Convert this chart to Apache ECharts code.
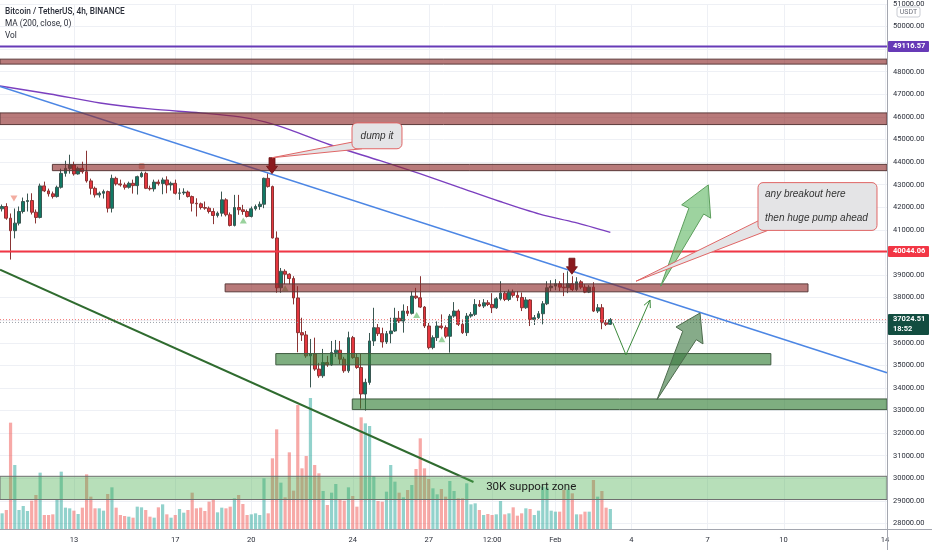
<!DOCTYPE html>
<html><head><meta charset="utf-8">
<script src="https://cdn.jsdelivr.net/npm/echarts@6/dist/echarts.min.js"></script>
<style>html,body{margin:0;padding:0;background:#fff}#c{width:932px;height:550px}</style>
</head><body><div id="c"></div>
<script>
// ---- time slots (4h candles) ----
const startTime = Date.UTC(2022, 0, 10, 4);
const slotCount = 210;
const tickIndex = [17, 41, 59, 83, 101, 116, 131, 149, 167, 185, 209];
const tickText = ['13', '17', '20', '24', '27', '12:00', 'Feb', '4', '7', '10', '14'];
const priceMin = 27000, priceMax = 51000, priceStep = 1000;
const volumeMax = 20000;

// ---- candles: [open, close, low, high] ----
const ohlc = [
[41931,42033,41812,42121],[42033,41517,41446,42178],[41517,40961,39683,41724],[40961,41296,40622,41944],[41296,41812,41195,42033],
[41812,42253,41724,42429],[42253,42297,41812,42606],[42297,41781,41680,42619],[41781,41548,41283,41900],[41548,42945,41504,43047],
[42945,42725,42672,43135],[42725,42593,42473,42826],[42593,42473,42385,42694],[42473,42883,42429,42958],[42883,43501,42826,43708],
[43501,43721,43355,44061],[43721,43871,43488,44326],[43871,43474,43400,44017],[43474,43721,43444,43796],[43721,43576,43488,44017],
[43576,43166,43091,44502],[43166,42839,42562,43267],[42839,42548,42429,42914],[42548,42619,42429,42694],[42619,42694,42385,42782],
[42694,41958,41768,42738],[41958,43280,41768,43443],[43280,43033,42958,43355],[43033,42989,42914,43223],[42989,42883,42782,43091],
[42883,43060,42826,43135],[43060,42958,42606,43223],[42958,43355,42562,43399],[43355,43501,43311,43576],[43501,42839,42804,43576],
[42839,42813,42738,42958],[42813,43113,42694,43223],[43113,43047,42958,43223],[43047,43210,42575,43311],[43210,42989,42619,43370],
[42989,43060,42738,43135],[43060,42619,42562,43223],[42619,42636,42328,42839],[42636,42672,42548,42839],[42672,42473,42429,42738],
[42473,42178,41812,42518],[42178,42152,41592,42398],[42152,41988,41900,42209],[41988,41958,41887,42253],[41958,41812,41724,42033],
[41812,41636,41252,41958],[41636,41737,41548,41812],[41737,42328,41592,42694],[42328,41667,41592,42398],[41667,41195,41151,41768],
[41195,41988,41151,42548],[41988,41887,41667,42548],[41887,41812,41667,42107],[41812,41592,41548,41900],[41592,41931,41548,42033],
[41931,42033,41856,42121],[42033,42134,41887,42253],[42134,43280,41958,43311],[43280,42914,42870,43501],[42914,40638,40622,42958],
[40638,38434,38213,40930],[38434,39166,38213,39311],[39166,39034,38593,39254],[39034,38844,38593,39078],[38844,37984,37698,38946],
[37984,36447,35580,38505],[36447,36345,36080,37108],[36345,35419,35331,36521],[35419,35507,34022,36168],[35507,34834,34757,36226],
[34834,34538,34448,35110],[34538,35123,34448,35727],[35123,35022,34934,35419],[35022,35564,34978,36080],[35564,35670,35375,36124],
[35670,35273,35051,36080],[35273,34757,34669,35375],[34757,36226,34669,36491],[36226,35344,35287,36301],[35344,34903,34845,35507],
[34903,33731,33083,35507],[33731,34245,32995,34408],[34245,36080,34139,36433],[36080,36666,35860,37548],[36666,36402,36301,36830],
[36402,36036,35785,36666],[36036,36402,35948,36521],[36402,36521,35978,37108],[36521,37085,36477,37548],[37085,36962,36874,37403],
[36962,37403,36447,37698],[37403,37302,37183,37624],[37302,38065,37250,38284],[38065,37990,37932,38431],[37990,37580,37536,38946],
[37580,36742,36654,37624],[36742,35785,35710,36874],[35785,36226,35710,36327],[36226,36742,36080,36948],[36742,36671,36594,37255],
[36671,36287,36199,36768],[36287,37183,35564,37271],[37183,37403,37108,37800],[37403,36816,36742,37477],[36816,36447,36389,36992],
[36447,37183,36301,37315],[37183,37257,37108,37359],[37257,37697,37183,37932],[37697,37624,37580,37888],[37624,37770,37536,37932],
[37770,37697,37624,37888],[37697,37550,37315,38196],[37550,37946,37500,38021],[37946,38196,37873,38725],[38196,37918,37844,38284],
[37918,38240,37844,38358],[38240,38098,38006,38358],[38098,38006,37844,38284],[38006,37550,37403,38226],[37550,37896,37500,38021],
[37896,37035,36740,37932],[37035,37108,36786,37227],[37108,37285,37050,37403],[37285,37726,36815,37844],[37726,38434,37668,38725],
[38434,38508,38284,38770],[38508,38609,38328,38814],[38609,38462,38284,38725],[38462,38434,38065,39093],[38434,38609,38196,39166],
[38609,38359,38284,38946],[38359,38697,38284,38902],[38697,38462,38372,38770],[38462,38240,38196,38593],[38240,38462,38200,38549],
[38462,37403,37359,38681],[37403,37550,37315,37712],[37550,36888,36598,37712],[36888,36817,36742,37006],[36817,37024.51,36786,37094]
];

const volumes = [
2350,2850,15950,9600,2850,3450,2700,4250,5100,8450,
2100,2100,2200,4450,8600,3200,3100,2750,2250,3200,
8200,4850,3100,3100,2750,5250,6250,3200,2100,1950,
1850,1700,3350,3250,2850,1850,1700,3250,3700,2200,
1700,2100,3000,2450,2850,5450,3100,3200,2700,4100,
4350,2500,3200,3100,3350,4600,5100,3750,2100,2200,
2350,2100,7600,2350,10600,14950,6950,4750,11500,5750,
18600,9100,10950,19650,9600,8350,5700,3600,5450,6750,
4450,4250,6250,4950,3350,16750,15850,15450,7950,4200,
4100,5600,9600,7100,5450,4750,5850,6600,9000,13600,
9100,7500,6100,5200,6000,4850,7200,5700,4600,4600,
6850,3700,3850,2850,2100,2250,2100,2200,4200,2200,
2350,3250,2000,2350,3100,3000,2100,2750,6350,6200,
2750,2600,2600,5850,5950,5350,2200,2200,2600,2600,
7350,4850,5700,3200,3000
];

// MA(200) readings: [slot index, price]
const ma200 = [[-0.5,47368],[11.3,47015],[23.2,46618],[35,46354],[46.9,46177],[56.3,46001],[62.2,45781],[68.2,45428],
[77.6,44767],[89.5,44061],[98.9,43488],[108.4,42870],[117.9,42253],[127.3,41694],[135.6,41328],[144,40887]];

// ---- drawings (slot index, price) ----
const levelPurple = 49116.57, levelRed = 40044.06, lastPrice = 37024.51, lastCountdown = '18:52', prevClose = 36900;
const trendBlue = [[-0.5, 47346], [209.5, 34671]];
const trendGreen = [[-0.5, 39238], [111.6, 29834]];
const brownZones = [[-0.5,209.5,48338,48558],[-0.5,209.5,45661,46177],[11.9,209.5,43620,43898],[52.8,190.8,38255,38607]];
const greenZones = [[64.8,182.0,35023,35521],[82.9,209.5,33039,33511]];
const supportZone = [-0.5,209.5,29058,30086];
const supportLabel = {text:'30K support zone', at:[114.6, 29599]};
const downArrows = [[63.9, 43488], [134.9, 39035]];
const callouts = [
  {lines:['dump it'], box:[82.84,94.67,45736,44590], target:[63.9,44193], base:[[83.3,44899],[85.2,44590]], center:true},
  {lines:['any breakout here','then huge pump ahead'], box:[178.96,207.13,43091,40975], target:[150.08,38725], base:[[179.2,41416],[181.3,40975]], center:false}
];
const bigArrow = [[155.92,38506],[162.6,41960],[160.89,42108],[167.19,42990],[167.76,41517],[166.1,41700]];
const lowArrow = [[155.05,33480],[161.14,36511],[159.54,36698],[165.23,37316],[165.94,35949],[164.34,36136]];
const vPath = [[144.6,36875],[147.7,35464],[153.4,37889]];
const markDown = [[2.8, 42385]];
const markSquare = [[33.05, 43827]];
const markUp = [[57.1,41416],[67.0,38418],[98.15,37228],[104.1,36156]];

// ---- build ----
const FONT = 'Roboto, "Liberation Sans", sans-serif';
const categories = [];
for (let i = 0; i < slotCount; i++) {
  categories.push(new Date(startTime + i * 4 * 3600e3).toISOString().slice(0, 16).replace('T', ' '));
}
const upC = 'rgba(38,166,154,0.5)', dnC = 'rgba(239,83,80,0.5)';
const volData = volumes.map((v, i) => ({value: v, itemStyle: {color: ohlc[i][1] >= ohlc[i][0] ? upC : dnC}}));

function gridRender(params, api) {
  const kids = [];
  const top = api.coord([0, priceMax])[1];
  const bot = params.coordSys.y + params.coordSys.height - 17;
  tickIndex.forEach(t => {
    const x = Math.round(api.coord([t, 40000])[0]) + 0.5;
    kids.push({type:'line', shape:{x1:x, y1:top, x2:x, y2:bot}, style:{stroke:'#eef0f5', lineWidth:1}});
  });
  return {type:'group', children:kids};
}

function drawRender(params, api) {
  const c = p => api.coord(p);
  const xL = c([-0.5, 40000])[0], xR = c([slotCount - 0.5, 40000])[0];
  const kids = [];
  const hline = (price, color, width, dash) => {
    const y = c([0, price])[1];
    kids.push({type:'line', shape:{x1:xL, y1:y, x2:xR, y2:y}, style:{stroke:color, lineWidth:width, lineDash:dash || null}});
  };
  const seg = (a, b, color, width) => {
    const p = c(a), q = c(b);
    kids.push({type:'line', shape:{x1:p[0], y1:p[1], x2:q[0], y2:q[1]}, style:{stroke:color, lineWidth:width}});
  };
  const zone = (z, fill, stroke) => {
    const p = c([z[0], z[3]]), q = c([z[1], z[2]]);
    kids.push({type:'rect', shape:{x:p[0], y:p[1], width:q[0]-p[0], height:q[1]-p[1]}, style:{fill:fill, stroke:stroke, lineWidth:1}});
  };
  // price lines
  hline(prevClose, '#9aa0a8', 1, [1, 2]);
  hline(lastPrice, 'rgba(239,83,80,0.8)', 1, [1, 2]);
  // trend lines
  seg(trendGreen[0], trendGreen[1], '#2f6b2f', 2);
  seg(trendBlue[0], trendBlue[1], '#4c86e4', 1.6);
  // zones
  zone(supportZone, 'rgba(76,175,80,0.4)', '#6f6f6f');
  brownZones.forEach(z => zone(z, 'rgba(140,40,40,0.62)', '#5b3a3a'));
  greenZones.forEach(z => zone(z, 'rgba(46,125,50,0.62)', '#3f5a3f'));
  hline(levelPurple, '#673ab7', 2);
  hline(levelRed, '#f23645', 2);
  // support label
  const sl = c(supportLabel.at);
  kids.push({type:'text', style:{text:supportLabel.text, x:sl[0], y:sl[1], fill:'#1b1b1b', font:'11.5px ' + FONT, align:'left', verticalAlign:'middle'}});
  // arrows up
  kids.push({type:'polygon', shape:{points:bigArrow.map(c)}, style:{fill:'rgba(76,175,80,0.55)', stroke:'#5c9e5c', lineWidth:1}});
  kids.push({type:'polygon', shape:{points:lowArrow.map(c)}, style:{fill:'rgba(60,120,64,0.62)', stroke:'#4d6b4d', lineWidth:1}});
  // V path with arrow head
  const vp = vPath.map(c);
  kids.push({type:'polyline', shape:{points:vp}, style:{stroke:'#3b8a3b', lineWidth:1, fill:null}});
  const a = vp[vp.length - 2], b = vp[vp.length - 1];
  const ang = Math.atan2(b[1] - a[1], b[0] - a[0]);
  const hl = 8;
  kids.push({type:'polyline', shape:{points:[
    [b[0] - hl * Math.cos(ang - 0.45), b[1] - hl * Math.sin(ang - 0.45)], b,
    [b[0] - hl * Math.cos(ang + 0.45), b[1] - hl * Math.sin(ang + 0.45)]]}, style:{stroke:'#3b8a3b', lineWidth:1, fill:null}});
  // down arrows
  downArrows.forEach(pt => {
    const p = c(pt);
    const x = p[0], y = p[1];
    kids.push({type:'polygon', shape:{points:[[x-3,y-16],[x+3,y-16],[x+3,y-7.5],[x+5.5,y-7.5],[x,y],[x-5.5,y-7.5],[x-3,y-7.5]]},
      style:{fill:'#8b1a1e', stroke:'#6d1215', lineWidth:0.8}});
  });
  // callouts
  callouts.forEach(co => {
    const t = c(co.target), b0 = c(co.base[0]), b1 = c(co.base[1]);
    kids.push({type:'polygon', shape:{points:[t, b0, b1]}, style:{fill:'#e4e4e6', stroke:'#e06666', lineWidth:1}});
    const p = c([co.box[0], co.box[2]]), q = c([co.box[1], co.box[3]]);
    kids.push({type:'rect', shape:{x:p[0], y:p[1], width:q[0]-p[0], height:q[1]-p[1], r:5}, style:{fill:'#e4e4e6', stroke:'#e06666', lineWidth:1}});
    const hgt = q[1] - p[1];
    co.lines.forEach((ln, k) => {
      const ty = p[1] + hgt * (k + 0.5) / co.lines.length;
      kids.push({type:'text', style:{text:ln, x: co.center ? (p[0]+q[0])/2 : p[0] + 7, y:ty, fill:'#333',
        font:'italic 10px "Liberation Sans", "DejaVu Sans", sans-serif', align: co.center ? 'center' : 'left', verticalAlign:'middle'}});
    });
  });
  // axis price tags
  const tag = (price, bg, lines) => {
    const y = c([0, price])[1];
    const h = lines.length * 10 + 1;
    kids.push({type:'rect', shape:{x:xR+1, y:y-5.5, width:41, height:h, r:1}, style:{fill:bg}});
    lines.forEach((tx, k) => kids.push({type:'text', style:{text:tx, x:xR+6, y:y + k*10, fill:'#fff',
      font:'bold 7.5px ' + FONT, align:'left', verticalAlign:'middle'}}));
  };
  tag(levelPurple, '#673ab7', [levelPurple.toFixed(2)]);
  tag(levelRed, '#f23645', [levelRed.toFixed(2)]);
  tag(lastPrice, '#124d40', [lastPrice.toFixed(2), lastCountdown]);
  return {type:'group', children:kids};
}

const chart = echarts.init(document.getElementById('c'), null, {renderer:'canvas'});
const W = 932, H = 550, axisW = 45, xAxisH = 21;
chart.setOption({
  animation: false,
  backgroundColor: '#ffffff',
  grid: [
    {left:0, right:axisW, top:1.6, bottom:4},
    {left:0, right:axisW, top:H - xAxisH - volumeMax / 150, bottom:xAxisH}
  ],
  xAxis: [
    {type:'category', gridIndex:0, data:categories, boundaryGap:true, show:false},
    {type:'value', gridIndex:0, min:-0.5, max:slotCount - 0.5, show:false},
    {type:'category', gridIndex:1, data:categories, boundaryGap:true,
      axisLine:{show:false}, axisTick:{show:false}, splitLine:{show:false},
      axisLabel:{interval:(i) => tickIndex.includes(i), formatter:(v, i) => tickText[tickIndex.indexOf(i)],
        fontSize:7.5, color:'#2a2e39', margin:7, fontFamily:FONT}}
  ],
  yAxis: [
    {type:'value', gridIndex:0, position:'right', min:priceMin, max:priceMax, interval:priceStep,
      axisLine:{show:false}, axisTick:{show:false},
      axisLabel:{showMinLabel:false, formatter:v => v.toFixed(2), fontSize:7.5, color:'#2a2e39', margin:6, fontFamily:FONT},
      splitLine:{show:true, showMinLine:false, lineStyle:{color:'#eef0f5', width:1}}},
    {type:'value', gridIndex:1, min:0, max:volumeMax, show:false}
  ],
  series: [
    {type:'custom', xAxisIndex:1, yAxisIndex:0, data:[[0, 40000]], renderItem:gridRender, silent:true, z:0},
    {type:'bar', xAxisIndex:2, yAxisIndex:1, data:volData, barWidth:3.2, silent:true, z:1},
    {type:'candlestick', xAxisIndex:0, yAxisIndex:0, data:ohlc, barWidth:3.3, silent:true, z:2,
      itemStyle:{color:'#117a65', color0:'#e5363f', borderColor:'#3a5752', borderColor0:'#8a3434', borderWidth:1}},
    {type:'line', xAxisIndex:1, yAxisIndex:0, data:ma200, smooth:0.3, symbol:'none', silent:true, z:3,
      lineStyle:{color:'#7b3fbf', width:1.4}},
    {type:'scatter', xAxisIndex:1, yAxisIndex:0, data:markDown, symbol:'triangle', symbolRotate:180, symbolSize:[7,6], silent:true, z:3,
      itemStyle:{color:'#f0988a'}},
    {type:'scatter', xAxisIndex:1, yAxisIndex:0, data:markSquare, symbol:'roundRect', symbolSize:6, silent:true, z:3,
      itemStyle:{color:'#e9a293'}},
    {type:'scatter', xAxisIndex:1, yAxisIndex:0, data:markUp, symbol:'triangle', symbolSize:[7,6], silent:true, z:3,
      itemStyle:{color:'#80c783'}},
    {type:'custom', xAxisIndex:1, yAxisIndex:0, data:[[0, 40000]], renderItem:drawRender, silent:true, clip:false, z:5}
  ],
  graphic: [
    {type:'line', shape:{x1:W - axisW + 0.5, y1:0, x2:W - axisW + 0.5, y2:H}, style:{stroke:'#a3a6af', lineWidth:1}, z:10},
    {type:'line', shape:{x1:0, y1:H - xAxisH + 0.5, x2:W, y2:H - xAxisH + 0.5}, style:{stroke:'#a3a6af', lineWidth:1}, z:10},
    {type:'rect', shape:{x:W - axisW + 10, y:7, width:23, height:10, r:2}, style:{fill:'#fff', stroke:'#c9ccd3', lineWidth:1}, z:10},
    {type:'text', x:W - axisW + 21.5, y:12, style:{text:'USDT', fill:'#6a6d78', fontSize:7, fontFamily:FONT, align:'center', verticalAlign:'middle'}, z:11},
    {type:'text', x:5, y:12, style:{text:'Bitcoin / TetherUS, 4h, BINANCE', fill:'#2a2e39', fontSize:8.3, fontWeight:500, fontFamily:FONT, verticalAlign:'middle'}, z:11},
    {type:'text', x:5, y:24, style:{text:'MA (200, close, 0)', fill:'#2a2e39', fontSize:8.3, fontFamily:FONT, verticalAlign:'middle'}, z:11},
    {type:'text', x:5, y:35.5, style:{text:'Vol', fill:'#2a2e39', fontSize:8.3, fontFamily:FONT, verticalAlign:'middle'}, z:11}
  ]
});
</script></body></html>
